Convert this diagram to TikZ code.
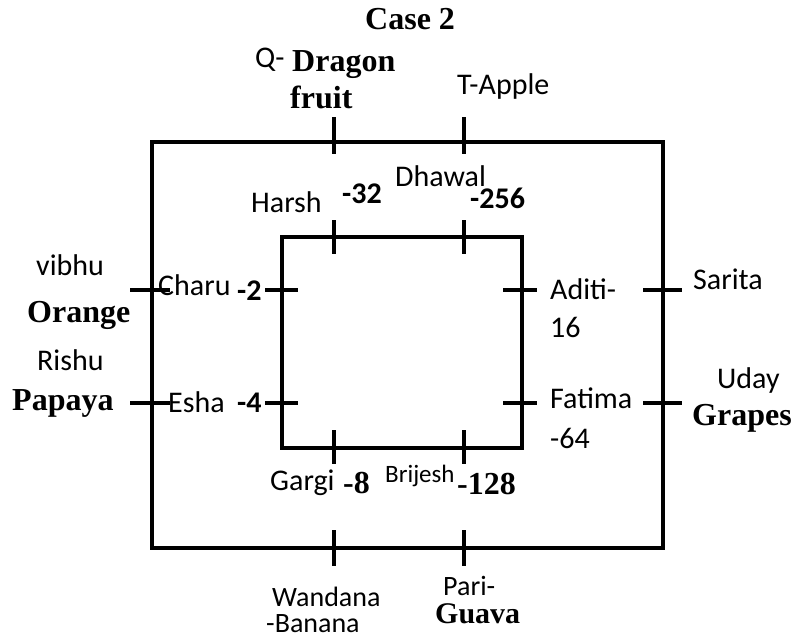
\documentclass[tikz,border=0pt]{standalone}
\usepackage{fontspec}
\setmainfont{Carlito}
\newfontfamily\serifbold{Liberation Serif}
\usetikzlibrary{positioning}

\begin{document}
\begin{tikzpicture}[x=1pt, y=-1pt,
    frame/.style={line width=4pt},
    tick/.style={line width=4pt},
    nm/.style={inner sep=0pt, anchor=base west, font=\fontsize{30}{32}\selectfont},
    smallnm/.style={nm, font=\fontsize{25}{27}\selectfont},
    num/.style={nm, font=\fontsize{30}{32}\selectfont\bfseries},
    frt/.style={nm, font=\fontsize{32}{34}\selectfont\serifbold\bfseries}]
    \useasboundingbox (0,0) rectangle (798,642);

    % Outer and inner squares
    \draw[frame] (152,142) rectangle (663,548);
    \draw[frame] (282,237) rectangle (522,448);

    % Seat marks, top and bottom
    \foreach \x in {334,464} {
        \draw[tick] (\x,117) -- (\x,154);
        \draw[tick] (\x,220) -- (\x,254);
        \draw[tick] (\x,430) -- (\x,464);
        \draw[tick] (\x,530) -- (\x,566);
    }
    % Seat marks, left and right
    \foreach \y in {290,403} {
        \draw[tick] (130,\y) -- (170,\y);
        \draw[tick] (265,\y) -- (298,\y);
        \draw[tick] (503,\y) -- (537,\y);
        \draw[tick] (643,\y) -- (682,\y);
    }

    % Title
    \node[frt] (title) at (365,30) {Case 2};

    % Outer row
    \node[nm] (q) at (255,67) {Q-};
    \node[frt] (dragon) at (292,72) {Dragon};
    \node[frt] (fruit) at (290,108) {fruit};
    \node[nm] (t) at (457,94) {T-Apple};
    \node[nm] (vibhu) at (36,275) {vibhu};
    \node[frt] (orange) at (27,322) {Orange};
    \node[nm] (rishu) at (37,370) {Rishu};
    \node[frt] (papaya) at (12,410) {Papaya};
    \node[nm] (sarita) at (693,289) {Sarita};
    \node[nm] (uday) at (717,388) {Uday};
    \node[frt] (grapes) at (692,425) {Grapes};
    \node[nm, font=\fontsize{28}{30}\selectfont] (wandana) at (272,606) {Wandana};
    \node[nm, font=\fontsize{28}{30}\selectfont] (banana) at (266,632) {-Banana};
    \node[nm, font=\fontsize{28}{30}\selectfont] (pari) at (443,595) {Pari-};
    \node[frt, font=\fontsize{30}{32}\selectfont\serifbold\bfseries] (guava) at (435,623) {Guava};

    % Inner row
    \node[nm] (harsh) at (251,212) {Harsh};
    \node[num] (v32) at (342,203) {-32};
    \node[nm] (dhawal) at (395,186) {Dhawal};
    \node[num] (v256) at (470,208) {-256};
    \node[nm] (charu) at (158,295) {Charu};
    \node[num] (v2) at (237,300) {-2};
    \node[nm] (esha) at (168,412) {Esha};
    \node[num] (v4) at (237,412) {-4};
    \node[nm] (aditi) at (550,299) {Aditi-};
    \node[nm] (v16) at (550,337) {16};
    \node[nm] (fatima) at (550,408) {Fatima};
    \node[nm] (v64) at (550,448) {-64};
    \node[nm] (gargi) at (270,490) {Gargi};
    \node[frt] (v8) at (343,493) {-8};
    \node[smallnm] (brijesh) at (385,482) {Brijesh};
    \node[frt] (v128) at (457,494) {-128};
\end{tikzpicture}
\end{document}
